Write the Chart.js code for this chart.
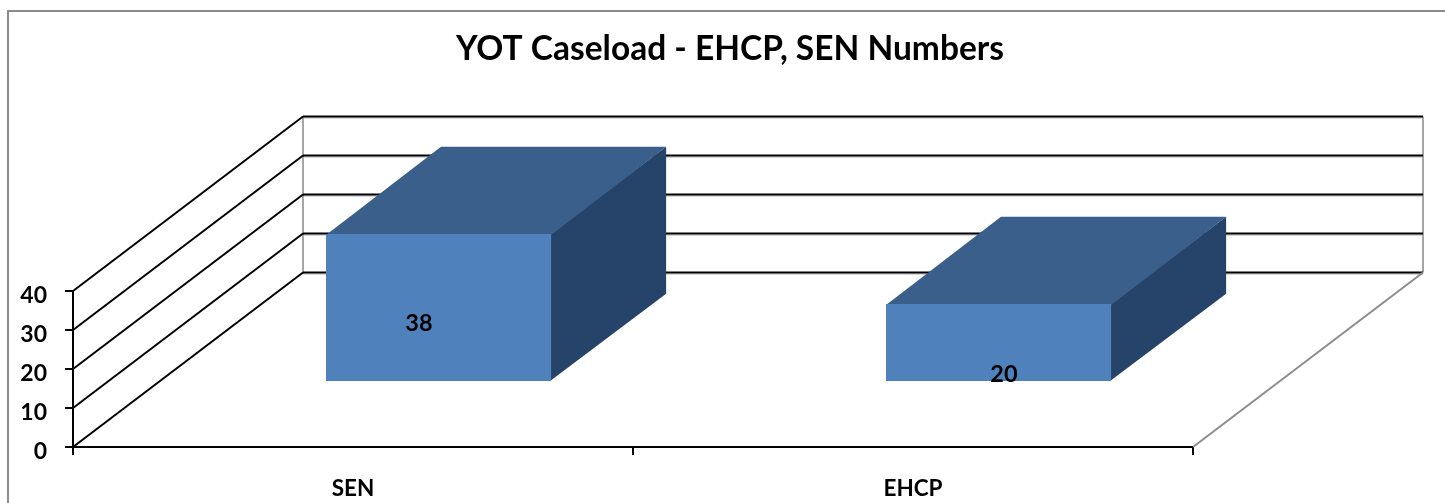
<!DOCTYPE html>
<html lang="en">
<head>
<meta charset="UTF-8">
<title>YOT Caseload</title>
<script src="https://cdn.jsdelivr.net/npm/chart.js"></script>
<style>
  html, body { margin: 0; padding: 0; background: #fff; overflow: hidden; }
  #wrap { position: relative; width: 1445px; height: 503px; }
  #frame { position: absolute; left: 7px; top: 10px; right: -5px; bottom: -5px; border: 2px solid #8c8c8c; }
  canvas { position: absolute; left: 0; top: 0; }
</style>
</head>
<body>

<div id="wrap">
  <div id="frame"></div>
  <canvas id="myChart" width="1445" height="503"></canvas>
</div>

<script>
  const categories = ['SEN', 'EHCP'];
  const caseload = [38, 20];
  const yTicks = [0, 10, 20, 30, 40];
  const chartTitle = 'YOT Caseload - EHCP, SEN Numbers';

  // perspective of the fake 3D box, pixels from front plane to back wall
  const depthX = 230;
  const depthY = 174.5;
  const barStart = 0.372;  // where the bars sit on the floor
  const barDepth = 0.5;

  // excel puts the value labels in odd places, shift from the bar middle
  const labelShift = [[66, -49], [91, -33]];

  function line(ctx, x1, y1, x2, y2, color, width) {
    ctx.beginPath();
    ctx.moveTo(x1, y1);
    ctx.lineTo(x2, y2);
    ctx.strokeStyle = color;
    ctx.lineWidth = width;
    ctx.stroke();
  }

  function face(ctx, pts, color) {
    ctx.beginPath();
    ctx.moveTo(pts[0][0], pts[0][1]);
    pts.slice(1).forEach(p => ctx.lineTo(p[0], p[1]));
    ctx.closePath();
    ctx.fillStyle = color;
    ctx.fill();
  }

  const box3d = {
    id: 'box3d',
    afterLayout(chart) {
      // title is centred on the whole picture + a little, not on the plot
      chart.titleBlock.left = 15;
      chart.titleBlock.right = 1445;
    },
    beforeDatasetsDraw(chart) {
      const ctx = chart.ctx;
      const { x, y } = chart.scales;
      const left = x.left, right = x.right, floor = y.getPixelForValue(0);
      const wallTop = y.getPixelForValue(yTicks[yTicks.length - 1]) - depthY;

      ctx.save();
      // back wall + side wall lines
      line(ctx, left + depthX, floor - depthY, left + depthX, wallTop, '#a6a6a6', 2);
      line(ctx, right + depthX, floor - depthY, right + depthX, wallTop, '#a6a6a6', 2);
      yTicks.forEach(v => {
        const py = y.getPixelForValue(v);
        line(ctx, left + depthX, py - depthY + 1.5, right + depthX, py - depthY + 1.5, '#b0b0b0', 1);
        line(ctx, left + depthX, py - depthY, right + depthX, py - depthY, '#000', 2);
        line(ctx, left, py, left + depthX, py - depthY, '#000', 2);
      });
      // floor edge on the right
      line(ctx, right, floor, right + depthX, floor - depthY, '#8c8c8c', 2);

      // side and top faces of the bars
      const sx = barStart * depthX, sy = barStart * depthY;
      const bx = barDepth * depthX, by = barDepth * depthY;
      chart.getDatasetMeta(0).data.forEach(bar => {
        const l = bar.x - bar.width / 2 + sx, r = bar.x + bar.width / 2 + sx;
        const t = bar.y - sy, b = bar.base - sy;
        face(ctx, [[r - 1, t], [r + bx, t - by], [r + bx, b - by], [r - 1, b]], '#264369');
        face(ctx, [[l, t + 1], [l + bx, t - by], [r + bx, t - by], [r, t + 1]], '#3a5f8b');
      });
      ctx.restore();

      // the real bars get drawn by chart.js, just moved back onto the floor
      ctx.save();
      ctx.translate(sx, -sy);
    },
    afterDatasetsDraw(chart) {
      const ctx = chart.ctx;
      ctx.restore();

      ctx.save();
      ctx.font = 'bold 23.5px Lato';
      ctx.fillStyle = '#000';
      ctx.textAlign = 'center';
      ctx.textBaseline = 'middle';
      chart.getDatasetMeta(0).data.forEach((bar, i) => {
        ctx.fillText(String(caseload[i]), bar.x + labelShift[i][0], (bar.y + bar.base) / 2 + labelShift[i][1]);
      });
      ctx.restore();
    }
  };

  new Chart(document.getElementById('myChart'), {
    type: 'bar',
    data: {
      labels: categories,
      datasets: [{
        label: 'Caseload',
        data: caseload,
        backgroundColor: '#4f81bd',
        borderWidth: 0,
        barPercentage: 0.402,
        categoryPercentage: 1,
        clip: false
      }]
    },
    plugins: [box3d],
    options: {
      responsive: false,
      animation: false,
      layout: { padding: { left: 0, right: 252, top: 0, bottom: 0 } },
      plugins: {
        legend: { display: false },
        tooltip: { enabled: false },
        title: {
          display: true,
          text: chartTitle,
          color: '#000',
          font: { family: 'Lato', size: 33.5, weight: 'bold', lineHeight: 1.2 },
          padding: { top: 29, bottom: 221.8 }
        }
      },
      scales: {
        x: {
          afterFit(scale) { scale.height = 56; },
          border: { display: true, color: '#000', width: 2 },
          grid: { drawOnChartArea: false, drawTicks: true, tickLength: 8, color: '#000', lineWidth: 2 },
          ticks: { color: '#000', padding: 20, font: { family: 'Lato', size: 22.5, weight: 'bold' }, maxRotation: 0 }
        },
        y: {
          min: 0,
          max: 40,
          afterFit(scale) { scale.width = 73; },
          afterBuildTicks(scale) { scale.ticks = yTicks.map(v => ({ value: v })); },
          border: { display: true, color: '#000', width: 2 },
          grid: { drawOnChartArea: false, drawTicks: true, tickLength: 8, color: '#000', lineWidth: 2 },
          ticks: { color: '#000', padding: 18, labelOffset: 5, font: { family: 'Lato', size: 23, weight: 'bold' } }
        }
      }
    }
  });
</script>

</body>
</html>
